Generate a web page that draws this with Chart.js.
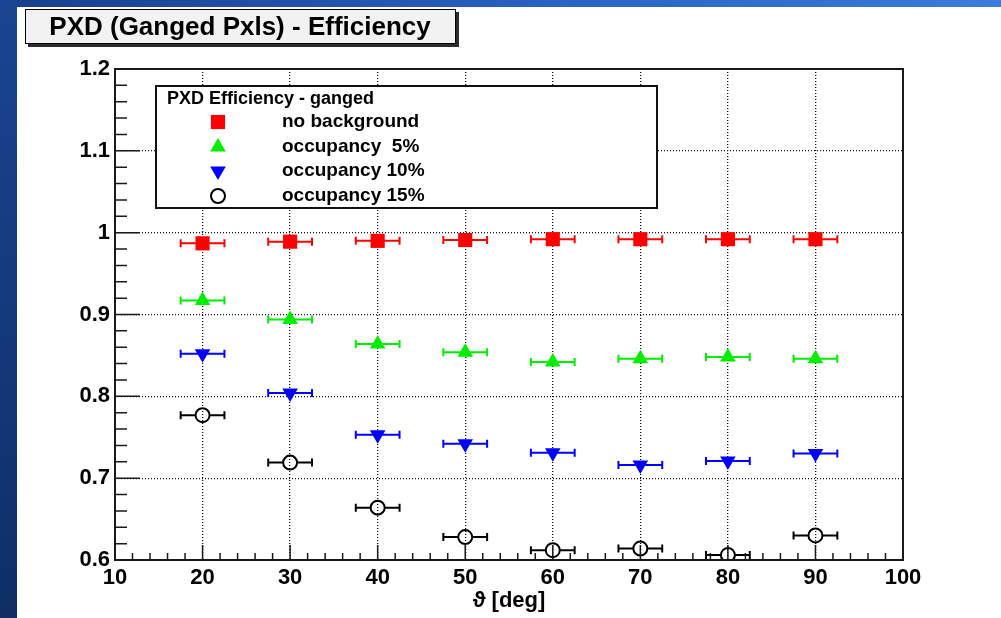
<!DOCTYPE html>
<html>
<head>
<meta charset="utf-8">
<title>PXD (Ganged Pxls) - Efficiency</title>
<script src="https://cdn.jsdelivr.net/npm/chart.js@4.4.0/dist/chart.umd.min.js"></script>
<style>
    html, body { margin: 0; padding: 0; }
    body {
        width: 1001px; height: 618px; overflow: hidden; position: relative;
        background: linear-gradient(to right, #173f8a 0%, #2a62c0 55%, #3c7cda 100%);
    }
    #leftStrip {
        position: absolute; left: 0; top: 0; width: 17px; height: 618px;
        background: linear-gradient(to bottom, #1a4592, #0f2e66);
    }
    #wrap { position: absolute; left: 0; top: 0; width: 1001px; height: 618px; }
</style>
</head>
<body>
<div id="leftStrip"></div>
<div id="wrap"><canvas id="effChart" width="1001" height="618"></canvas></div>
<script>
// valores
const thetaDeg = [20, 30, 40, 50, 60, 70, 80, 90];
const thetaErr = [2.5, 2.5, 2.5, 2.5, 2.5, 2.5, 2.5, 2.5];
const effNoBkg = [0.987, 0.989, 0.990, 0.991, 0.992, 0.992, 0.992, 0.992];
const effOcc5  = [0.917, 0.894, 0.864, 0.854, 0.842, 0.846, 0.848, 0.846];
const effOcc10 = [0.852, 0.804, 0.753, 0.742, 0.731, 0.716, 0.721, 0.730];
const effOcc15 = [0.777, 0.719, 0.664, 0.628, 0.612, 0.614, 0.606, 0.630];

const seriesLabels = ['no background', 'occupancy  5%', 'occupancy 10%', 'occupancy 15%'];
const xTicks = [10, 100, 10];     // min, max, step
const yTicks = [0.6, 1.2, 0.1];

const FONT = "'Liberation Sans', Arial, Helvetica, sans-serif";
Chart.defaults.font.family = FONT;

const toPoints = (ys) => thetaDeg.map((x, i) => ({ x: x, y: ys[i] }));
const isEdge = (v, lo, hi) => Math.abs(v - lo) < 1e-6 || Math.abs(v - hi) < 1e-6;

// fondo blanco del panel
const panelPlugin = {
    id: 'panel',
    beforeDraw(chart) {
        const ctx = chart.ctx;
        ctx.save();
        ctx.fillStyle = '#ffffff';
        ctx.fillRect(17, 7, chart.width - 17, chart.height - 7);
        ctx.restore();
    }
};

// barras de error horizontales
const errorBarPlugin = {
    id: 'errorBars',
    beforeDatasetsDraw(chart) {
        const ctx = chart.ctx;
        const xs = chart.scales.x;
        chart.data.datasets.forEach((ds, di) => {
            const meta = chart.getDatasetMeta(di);
            const gap = ds.hollow ? ds.pointRadius : 0;
            ctx.save();
            ctx.strokeStyle = ds.borderColor;
            ctx.lineWidth = 2;
            meta.data.forEach((pt, i) => {
                const x0 = xs.getPixelForValue(thetaDeg[i] - thetaErr[i]);
                const x1 = xs.getPixelForValue(thetaDeg[i] + thetaErr[i]);
                const y = pt.y;
                ctx.beginPath();
                ctx.moveTo(x0, y); ctx.lineTo(pt.x - gap, y);
                ctx.moveTo(pt.x + gap, y); ctx.lineTo(x1, y);
                ctx.moveTo(x0, y - 4); ctx.lineTo(x0, y + 4);
                ctx.moveTo(x1, y - 4); ctx.lineTo(x1, y + 4);
                ctx.stroke();
            });
            ctx.restore();
        });
    }
};

// marco y ticks hacia dentro (estilo ROOT)
const framePlugin = {
    id: 'frame',
    afterDatasetsDraw(chart) {
        const ctx = chart.ctx;
        const a = chart.chartArea;
        const xs = chart.scales.x, ys = chart.scales.y;
        ctx.save();
        ctx.strokeStyle = '#1a1a1a';
        ctx.lineWidth = 1.5;
        ctx.beginPath();
        for (let i = 0; i <= 30; i++) {
            const y = ys.getPixelForValue(yTicks[0] + i * 0.02);
            const len = i % 5 === 0 ? 25 : 12;
            ctx.moveTo(a.left, y); ctx.lineTo(a.left + len, y);
        }
        for (let i = 0; i <= 45; i++) {
            const x = xs.getPixelForValue(xTicks[0] + i * 2);
            const len = i % 5 === 0 ? 15 : 7;
            ctx.moveTo(x, a.bottom); ctx.lineTo(x, a.bottom - len);
        }
        ctx.stroke();
        ctx.lineWidth = 2;
        ctx.strokeRect(a.left, a.top, a.right - a.left, a.bottom - a.top);
        ctx.restore();
    }
};

// titulo, leyenda y titulo del eje x
const annotPlugin = {
    id: 'annot',
    afterDraw(chart) {
        const ctx = chart.ctx;
        const a = chart.chartArea;
        ctx.save();

        // caja del titulo con sombra
        ctx.fillStyle = '#2b2b2b';
        ctx.fillRect(28, 12, 431, 35);
        ctx.fillStyle = '#f2f2f2';
        ctx.fillRect(25, 9, 431, 35);
        ctx.strokeStyle = '#000';
        ctx.lineWidth = 1;
        ctx.strokeRect(25.5, 9.5, 430, 34);
        ctx.fillStyle = '#000';
        ctx.font = 'bold 26px ' + FONT;
        ctx.textAlign = 'center';
        ctx.textBaseline = 'middle';
        ctx.fillText('PXD (Ganged Pxls) - Efficiency', 240, 28);

        // leyenda
        ctx.fillStyle = '#ffffff';
        ctx.fillRect(156, 86, 501, 122);
        ctx.strokeStyle = '#111';
        ctx.lineWidth = 2;
        ctx.strokeRect(156, 86, 501, 122);
        ctx.fillStyle = '#000';
        ctx.textAlign = 'left';
        ctx.font = 'bold 18px ' + FONT;
        ctx.fillText('PXD Efficiency - ganged', 167, 99);
        const rows = [122, 147, 171, 196];
        chart.data.datasets.forEach((ds, i) => {
            ctx.fillStyle = ds.backgroundColor;
            ctx.strokeStyle = ds.borderColor;
            ctx.lineWidth = ds.pointBorderWidth;
            Chart.helpers.drawPoint(ctx, {
                pointStyle: ds.pointStyle,
                radius: ds.pointRadius,
                rotation: ds.pointRotation || 0,
                borderWidth: ds.pointBorderWidth
            }, 218, rows[i]);
            ctx.fillStyle = '#000';
            ctx.font = 'bold 19px ' + FONT;
            ctx.fillText(seriesLabels[i], 282, rows[i]);
        });

        // titulo eje x
        ctx.font = 'bold 22px ' + FONT;
        ctx.textAlign = 'center';
        ctx.fillText('\u03D1 [deg]', (a.left + a.right) / 2, 601);
        ctx.restore();
    }
};

const gridColor = (lo, hi) => (c) => (c.tick && isEdge(c.tick.value, lo, hi)) ? 'rgba(0,0,0,0)' : '#111';

new Chart('effChart', {
    type: 'scatter',
    data: {
        datasets: [
            {
                label: seriesLabels[0], data: toPoints(effNoBkg),
                pointStyle: 'rect', pointRadius: 10, pointBorderWidth: 0,
                backgroundColor: '#ff0000', borderColor: '#ff0000'
            },
            {
                label: seriesLabels[1], data: toPoints(effOcc5),
                pointStyle: 'triangle', pointRadius: 9, pointBorderWidth: 0,
                backgroundColor: '#00ee00', borderColor: '#00ee00'
            },
            {
                label: seriesLabels[2], data: toPoints(effOcc10),
                pointStyle: 'triangle', pointRotation: 180, pointRadius: 9, pointBorderWidth: 0,
                backgroundColor: '#0000ff', borderColor: '#0000ff'
            },
            {
                label: seriesLabels[3], data: toPoints(effOcc15), hollow: true,
                pointStyle: 'circle', pointRadius: 7, pointBorderWidth: 2,
                backgroundColor: 'rgba(0,0,0,0)', borderColor: '#000000'
            }
        ]
    },
    options: {
        responsive: false,
        animation: false,
        layout: { padding: { left: 0, top: 69, right: 98, bottom: 0 } },
        plugins: {
            legend: { display: false },
            tooltip: { enabled: false },
            title: { display: false }
        },
        scales: {
            x: {
                type: 'linear',
                min: xTicks[0], max: xTicks[1],
                ticks: {
                    stepSize: xTicks[2], padding: 5, color: '#000',
                    font: { size: 22, weight: 'bold' }
                },
                grid: { drawTicks: false, lineWidth: 1.3, color: gridColor(xTicks[0], xTicks[1]) },
                border: { display: false, dash: [1, 2] },
                afterFit: (s) => { s.height = 58; }
            },
            y: {
                type: 'linear',
                min: yTicks[0], max: yTicks[1],
                ticks: {
                    stepSize: yTicks[2], padding: 5, color: '#000',
                    font: { size: 22, weight: 'bold' },
                    callback: (v) => String(Number(v.toFixed(2)))
                },
                grid: { drawTicks: false, lineWidth: 1.3, color: gridColor(yTicks[0], yTicks[1]) },
                border: { display: false, dash: [1, 2] },
                afterFit: (s) => { s.width = 115; }
            }
        }
    },
    plugins: [panelPlugin, errorBarPlugin, framePlugin, annotPlugin]
});
</script>
</body>
</html>
